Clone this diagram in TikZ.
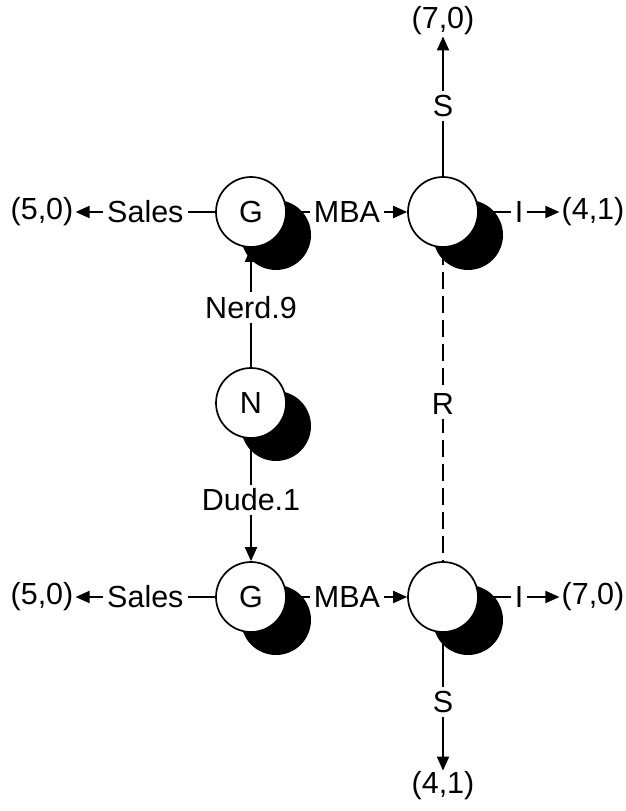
\documentclass[tikz,border=0pt]{standalone}
\usepackage{fontspec}
\setmainfont{Liberation Sans}
\usetikzlibrary{arrows.meta,shadows}
\pgfdeclarelayer{background}
\pgfsetlayers{background,main}
\begin{document}
\begin{tikzpicture}[x=1pt,y=-1pt,
  every node/.style={font=\fontsize{30.5}{36}\selectfont},
  state/.style={circle,draw,line width=1.7pt,fill=white,minimum size=70pt,inner sep=0pt,
    drop shadow={shadow xshift=25pt,shadow yshift=-23pt,fill=black,opacity=1,draw=none}},
  term/.style={inner sep=2pt},
  edge/.style={line width=1.9pt},
  arr/.style={edge,-{Triangle[length=14pt,width=12pt]}},
  lab/.style={fill=white,inner sep=4pt}]
\useasboundingbox (0,0) rectangle (626,811);
% states
\node[state] (G1) at (251,212) {G};
\node[state] (X1) at (443,212) {};
\node[state] (N)  at (251,403) {N};
\node[state] (G2) at (251,597) {G};
\node[state] (X2) at (443,597) {};
% terminal payoffs
\node[term] (L1) at (42,212) {(5,0)};
\node[term] (R1) at (593,212) {(4,1)};
\node[term,inner sep=1pt] (T1) at (443,21) {(7,0)};
\node[term] (L2) at (42,597) {(5,0)};
\node[term] (R2) at (593,597) {(7,0)};
\node[term,inner sep=1pt] (B2) at (443,786) {(4,1)};
\begin{pgfonlayer}{background}
\draw[arr] (G1) -- node[lab]{Sales} (L1);
\draw[arr] (G1) -- node[lab]{MBA} (X1);
\draw[arr] (X1) -- node[lab]{I} (R1);
\draw[arr] (X1) -- node[lab]{S} (T1);
\draw[arr] (N) -- node[lab]{Nerd.9} (G1);
\draw[arr] (N) -- node[lab]{Dude.1} (G2);
\draw[edge,dash pattern=on 17pt off 7pt] (X1) -- node[lab]{R} (X2);
\draw[arr] (G2) -- node[lab]{Sales} (L2);
\draw[arr] (G2) -- node[lab]{MBA} (X2);
\draw[arr] (X2) -- node[lab]{I} (R2);
\draw[arr] (X2) -- node[lab]{S} (B2);
\end{pgfonlayer}
\end{tikzpicture}
\end{document}
